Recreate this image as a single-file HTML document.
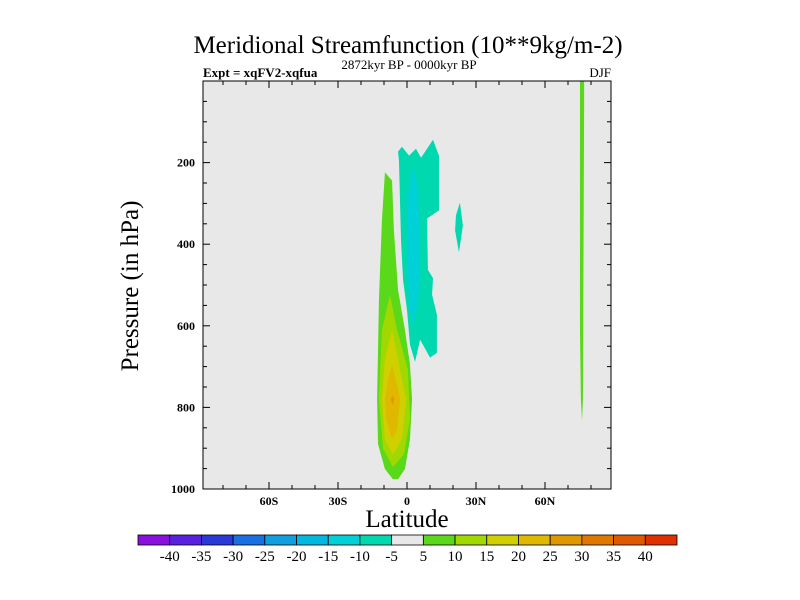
<!DOCTYPE html>
<html><head><meta charset="utf-8"><style>
body{margin:0;background:#fff}
svg{display:block;font-family:"Liberation Serif",serif}
</style></head><body>
<svg id="c" width="800" height="600">
<text x="408" y="53" font-size="25" text-anchor="middle">Meridional Streamfunction (10**9kg/m-2)</text>
<text x="203" y="77" font-size="13" font-weight="bold">Expt = xqFV2-xqfua</text>
<text x="409" y="69" font-size="13" text-anchor="middle">2872kyr BP - 0000kyr BP</text>
<text x="611" y="77" font-size="13" text-anchor="end">DJF</text>
<rect x="203" y="81" width="408" height="408" fill="#e8e8e8"/>
<g id="marks"></g>
<g id="axes"></g>
<rect x="203" y="81" width="408" height="408" fill="none" stroke="#000" stroke-width="1"/>
<text transform="translate(138,286) rotate(-90)" font-size="25" text-anchor="middle">Pressure (in hPa)</text>
<text x="407" y="527" font-size="25" text-anchor="middle">Latitude</text>
<g id="cbar"></g>
</svg>
<script>
const levels=[-40,-35,-30,-25,-20,-15,-10,-5,5,10,15,20,25,30,35,40];
const levelColors=["#8a10e0","#5a20e0","#2a3ad8","#1a70e0","#10a0e0","#00b8e0","#00d0d8","#00d8b0","#e8e8e8","#5ad81a","#a0d800","#d0d000","#e0b800","#e09800","#e07800","#e05800","#e03000"];
const yTicks=[200,400,600,800,1000];
const xTicks=[-60,-30,0,30,60];
const xTickLabels=["60S","30S","0","30N","60N"];
const regPos5=[[-9.6,224],[-6.5,244],[-5.7,366],[-3.9,512],[-0.9,610],[1.3,695],[2.2,780],[1.3,878],[-0.9,951],[-3.9,976],[-6.1,976],[-9.6,951],[-12.6,890],[-13.0,780],[-12.2,537],[-10.9,341]];
const regPos10=[[-7.4,524],[-4.3,610],[0.4,707],[1.3,829],[-1.3,915],[-6.1,946],[-10.4,902],[-12.2,780],[-10.9,610]];
const regPos15=[[-6.5,610],[-3.0,707],[-0.4,780],[-2.2,878],[-6.1,915],[-9.6,878],[-10.9,780],[-9.6,683]];
const regPos20=[[-6.5,695],[-3.9,756],[-3.0,780],[-4.3,854],[-6.5,878],[-9.1,829],[-9.6,780],[-8.3,732]];
const regPos25=[[-6.3,770],[-5.5,780],[-6.3,795],[-7.0,780]];
const regNeg5=[[-3.9,173],[-2.2,161],[0.9,183],[3.9,166],[6.1,188],[11.3,144],[13.9,183],[13.9,317],[8.7,337],[9.1,463],[11.3,483],[10.9,524],[13.0,573],[13.0,666],[10.0,678],[5.7,634],[3.5,688],[1.3,646],[0,561],[-1.7,488],[-2.6,390],[-3.5,195]];
const regNeg10=[[2.6,207],[4.8,268],[5.7,439],[4.8,537],[3.0,598],[1.3,561],[0,439],[0,293]];
const regNeg5b=[[23.0,298],[24.3,354],[22.6,420],[20.9,366],[21.3,329]];
const regPosStrip=[[75.2,0],[77.0,0],[77.0,73],[76.6,610],[76.5,780],[76.1,834],[75.6,780],[75.2,610]];
const regions=[[regPos5,5],[regPos10,10],[regPos15,15],[regPos20,20],[regPos25,25],[regNeg5,-5],[regNeg10,-10],[regNeg5b,-5],[regPosStrip,5]];
const NS="http://www.w3.org/2000/svg";
const X=lat=>407+lat*2.3;
const Y=p=>81+p*0.408;
const marks=document.getElementById('marks');
regions.forEach(([pts,v],k)=>{
 const el=document.createElementNS(NS,'polygon');
 el.setAttribute('points',pts.map(q=>X(q[0])+','+Y(q[1])).join(' '));
 el.setAttribute('fill',levelColors[8+Math.round(v/5)]);
 
 
 marks.appendChild(el);
});
const ax=document.getElementById('axes');
function line(x1,y1,x2,y2){const l=document.createElementNS(NS,'line');l.setAttribute('x1',x1);l.setAttribute('y1',y1);l.setAttribute('x2',x2);l.setAttribute('y2',y2);l.setAttribute('stroke','#000');


ax.appendChild(l);}
function text(x,y,s,anchor,name){const t=document.createElementNS(NS,'text');t.setAttribute('x',x);t.setAttribute('y',y);t.setAttribute('font-size','12');t.setAttribute('font-weight','bold');t.setAttribute('text-anchor',anchor);t.textContent=s;


ax.appendChild(t);return t;}
for(let p=50;p<1000;p+=50){const y=Y(p);const L=p%200===0?7:4;line(203,y,203+L,y);line(611,y,611-L,y);}
yTicks.forEach(p=>text(195,Y(p)+4,String(p),'end','y-tick-label'));
for(let lat=-80;lat<=80;lat+=10){const x=X(lat);const L=lat%30===0?7:4;line(x,489,x,489-L);line(x,81,x,81+L);}
xTicks.forEach((lat,i)=>text(X(lat),505,xTickLabels[i],'middle','x-tick-label'));
const cb=document.getElementById('cbar');
const cx0=138,cw=(677-138)/17;
levelColors.forEach((c,i)=>{const r=document.createElementNS(NS,'rect');r.setAttribute('x',cx0+i*cw);r.setAttribute('y',535);r.setAttribute('width',cw);r.setAttribute('height',10);r.setAttribute('fill',c);r.setAttribute('stroke','#000');r.setAttribute('stroke-width','0.8');


cb.appendChild(r);});
levels.forEach((v,i)=>{const t=document.createElementNS(NS,'text');t.setAttribute('x',cx0+(i+1)*cw);t.setAttribute('y',561);t.setAttribute('font-size','15');t.setAttribute('text-anchor','middle');t.textContent=String(v);


cb.appendChild(t);});
</script>
</body></html>
